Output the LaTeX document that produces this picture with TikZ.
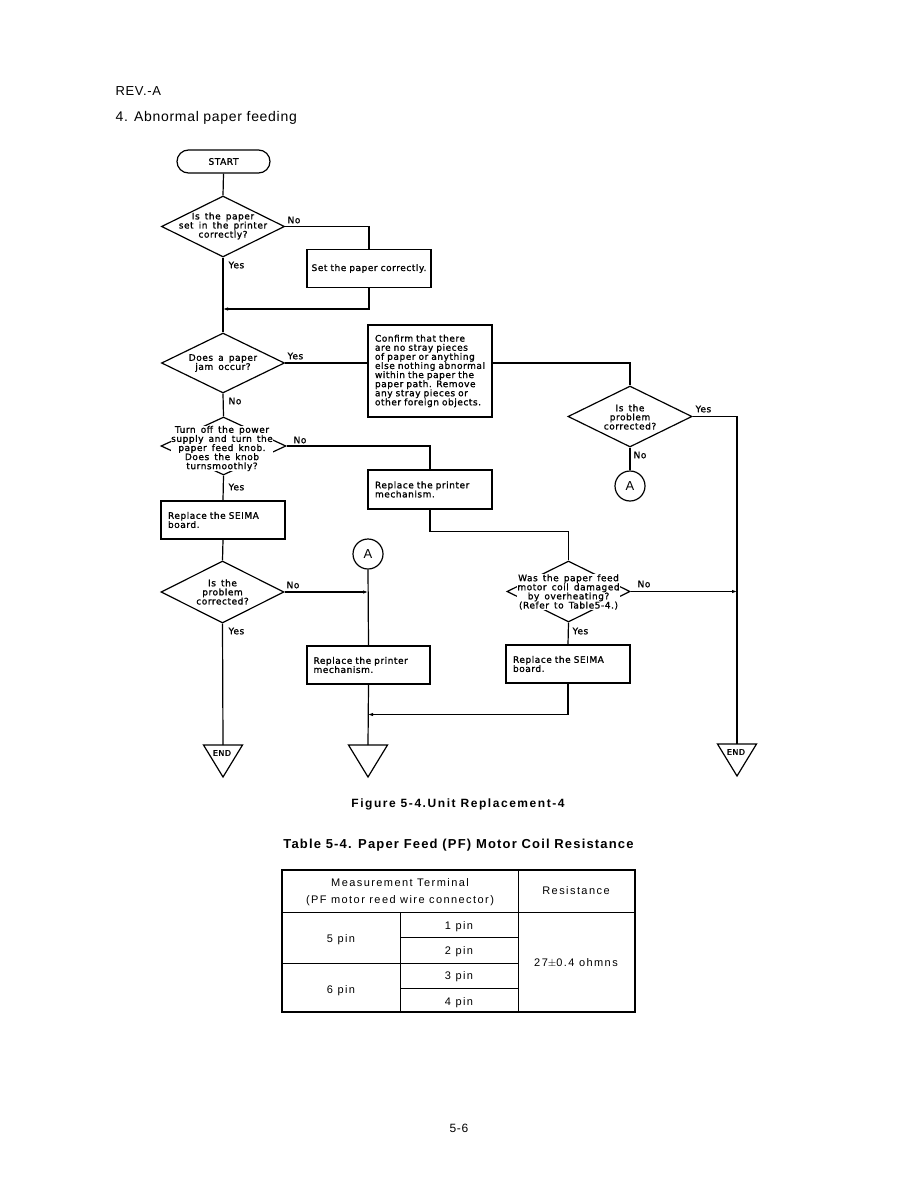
\documentclass[tikz,border=0pt]{standalone}
\usepackage{fontspec}
\setmainfont{Liberation Sans}
\newfontfamily\chartfont[LetterSpace=6,WordSpace=1.5,FakeBold=1.2]{DejaVu Sans}
\newfontfamily\headfont[LetterSpace=5]{Liberation Sans}
\newfontfamily\titlefont[LetterSpace=9]{Liberation Sans}
\newfontfamily\widefont[LetterSpace=13]{Liberation Sans}
\usetikzlibrary{shapes.geometric,arrows.meta}

\begin{document}
\begin{tikzpicture}[x=1pt,y=-1pt,line width=1.2pt,
  >={Latex[length=5pt,width=3.5pt]},
  every node/.style={inner sep=0pt},
  chart/.style={font=\chartfont\fontsize{9}{9.1}\selectfont},
  box/.style={chart,draw,line width=1.5pt,minimum width=124pt,minimum height=38pt,text width=110pt,align=left},
  decision/.style={draw,diamond,minimum width=123pt,minimum height=61pt},
  qtext/.style={chart,align=center},
  conn/.style={draw,circle,minimum size=30pt,font=\fontsize{13}{15}\selectfont},
  lbl/.style={chart,anchor=west},
  tabtext/.style={anchor=base,font=\widefont\fontsize{11}{13}\selectfont}]
\useasboundingbox (0,0) rectangle (918,1188);
\node[anchor=base west,font=\headfont\fontsize{13}{15}\selectfont] (rev) at (115,96) {REV.-A};
\node[anchor=base west,font=\headfont\fontsize{14}{16}\selectfont] (title) at (115,122) {4. Abnormal paper feeding};

\node[draw,chart,rounded corners=11.5pt,minimum width=93pt,minimum height=23pt] (start) at (223.5,161.5) {START};
\node[decision] (q1) at (223,226.5) {};
\node[qtext] (q1t) at (223,226) {Is the paper\\set in the printer\\correctly?};
\node[box,align=center,text width=124pt] (fix) at (369,268.5) {Set the paper correctly.};
\coordinate (j1) at (223,309);
\node[decision,minimum height=60pt] (q2) at (223,363) {};
\node[qtext] (q2t) at (223,363) {Does a paper\\jam occur?};
\node[box,minimum height=92pt] (confirm) at (430,371) {Confirm that there\\are no stray pieces\\of paper or anything\\else nothing abnormal\\within the paper the\\paper path. Remove\\any stray pieces or\\other foreign objects.};
\node[decision,minimum width=124pt] (q3) at (630,416.5) {};
\node[qtext] (q3t) at (630,417) {Is the\\problem\\corrected?};
\node[conn] (a1) at (630,486) {A};
\node[decision,minimum width=125pt,minimum height=58pt] (q4) at (223.5,446) {};
\node[qtext,fill=white] (q4t) at (222,448.5) {Turn off the power\\supply and turn the\\paper feed knob.\\Does the knob\\turnsmoothly?};
\node[box,minimum height=39pt] (rpm1) at (430,489.5) {Replace the printer\\mechanism.};
\node[box] (seima1) at (223,520) {Replace the SEIMA\\board.};
\node[decision,minimum height=62pt] (q5) at (222.5,592) {};
\node[qtext] (q5t) at (222.5,592) {Is the\\problem\\corrected?};
\node[conn] (a2) at (368,554) {A};
\node[box,minimum width=123pt] (rpm2) at (368.5,665) {Replace the printer\\mechanism.};
\node[decision] (q6) at (568.5,591.5) {};
\node[qtext,fill=white] (q6t) at (568.5,592) {Was the paper feed\\motor coil damaged\\by overheating?\\(Refer to Table5-4.)};
\node[box] (seima2) at (568,664) {Replace the SEIMA\\board.};
\coordinate (j3) at (368,714.5);
\coordinate (e1) at (223,745);
\coordinate (e2) at (368,745);
\coordinate (e3) at (737,744);

\draw (start.south) -- (q1.north);
\draw (q1.east) -| (fix.north);
\draw (q1.south) -- (q2.north);
\draw[->] (fix.south) |- (j1);
\draw (q2.east) -- (q2.east -| confirm.west);
\draw (confirm.east |- q2.east) -| (q3.north);
\draw (q3.south) -- (a1.north);
\draw (q3.east) -| (e3);
\draw (q2.south) -- (q4.north);
\draw (q4.east) -| (rpm1.north);
\draw (q4.south) -- (seima1.north);
\draw (seima1.south) -- (q5.north);
\draw[->] (q5.east) -- (q5.east -| a2);
\draw (a2.south) -- (rpm2.north);
\draw (rpm2.south) -- (e2);
\draw (rpm1.south) -- ++(0,22) -| (q6.north);
\draw (q6.south) -- (seima2.north);
\draw[->] (seima2.south) |- (j3);
\draw[->] (q6.east) -- (q6.east -| e3);
\draw (q5.south) -- (e1);
\foreach \t in {e1,e2,e3}
  \draw (\t) +(-19.5,0) -- +(19.5,0) -- +(0,32) -- cycle;
\node[chart,font=\chartfont\fontsize{8}{9}\selectfont] (e1t) at ([shift={(-1,8)}]e1) {END};
\node[chart,font=\chartfont\fontsize{8}{9}\selectfont] (e3t) at ([shift={(-1,8)}]e3) {END};

\node[lbl] (q1no) at (287,220) {No};
\node[lbl] (q1yes) at (228,265) {Yes};
\node[lbl] (q2yes) at (287,356) {Yes};
\node[lbl] (q2no) at (228,401) {No};
\node[lbl] (q3yes) at (695,409) {Yes};
\node[lbl] (q3no) at (633,455) {No};
\node[lbl] (q4no) at (293,440) {No};
\node[lbl] (q4yes) at (228,487) {Yes};
\node[lbl] (q5no) at (286,585) {No};
\node[lbl] (q5yes) at (228,631) {Yes};
\node[lbl] (q6no) at (637,584) {No};
\node[lbl] (q6yes) at (572,631) {Yes};

\node[anchor=base,font=\widefont\bfseries\fontsize{12}{14}\selectfont] (fig) at (458,807) {Figure 5-4.Unit Replacement-4};
\node[anchor=base,font=\titlefont\bfseries\fontsize{13}{15}\selectfont] (tab) at (458.5,848) {Table 5-4.\enspace Paper Feed (PF) Motor Coil Resistance};

\draw[line width=1.6pt] (282,870) rectangle (635,1012);
\draw[line width=1pt] (282,912) -- (635,912) (518,870) -- (518,1012) (400,912) -- (400,1012)
  (282,963) -- (518,963) (400,937) -- (518,937) (400,988) -- (518,988);
\node[tabtext] (mt) at (400,886) {Measurement Terminal};
\node[tabtext] (pf) at (400,903) {(PF motor reed wire connector)};
\node[tabtext] (res) at (576,894) {Resistance};
\node[tabtext] (p5) at (341,942) {5 pin};
\node[tabtext] (p6) at (341,993) {6 pin};
\node[tabtext] (pin1) at (459,929) {1 pin};
\node[tabtext] (pin2) at (459,954) {2 pin};
\node[tabtext] (pin3) at (459,979) {3 pin};
\node[tabtext] (pin4) at (459,1005) {4 pin};
\node[tabtext] (ohm) at (576,966) {27$\pm$0.4 ohmns};

\node[anchor=base,font=\headfont\fontsize{12}{14}\selectfont] (page) at (459,1132) {5-6};
\end{tikzpicture}
\end{document}
